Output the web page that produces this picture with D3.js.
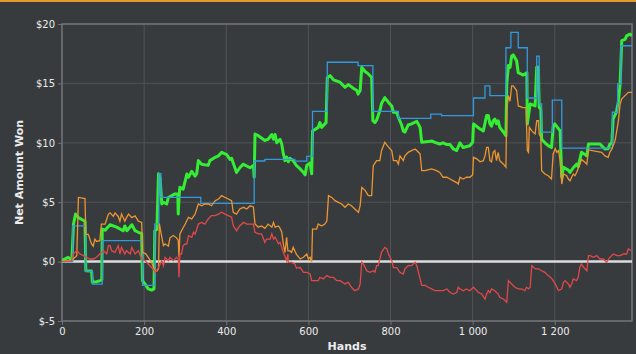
<!DOCTYPE html>
<html lang="en">
<head>
<meta charset="UTF-8">
<title>Net Amount Won</title>
<style>
  * { margin: 0; padding: 0; }
  body { background: #383b3e; }
  svg { display: block; }
  text { font-family: "DejaVu Sans", sans-serif; fill: #ececec; }
</style>
</head>
<body>
<svg></svg>
<script src="https://cdn.jsdelivr.net/npm/d3@7/dist/d3.min.js"></script>
<script>
// x ticks and y ticks
const handTicks = [0, 200, 400, 600, 800, 1000, 1200]
const wonTicks = [-5, 0, 5, 10, 15, 20]

// series: [hand, dollars]
const green = [[0,0.1],[15,0.36],[24,0.1],[28,3.16],[33,4.0],[40,3.7],[56,3.4],[58,-0.77],[72,-0.8],[74,-1.74],[84,-1.7],[93,-1.6],[97,-1.55],[98,2.74],[105,2.65],[117,3.1],[133,2.9],[149,2.6],[153,3.0],[158,2.6],[170,3.1],[178,2.6],[186,2.47],[194,2.35],[196,-1.6],[202,-1.88],[210,-2.3],[218,-2.4],[224,-2.3],[226,2.6],[231,2.7],[235,7.4],[239,7.0],[243,4.85],[247,5.0],[255,4.85],[259,5.4],[275,5.7],[282,5.7],[283,4.0],[285,5.4],[287,6.25],[295,6.1],[300,6.8],[304,7.37],[308,7.1],[316,7.6],[324,7.2],[328,7.4],[332,8.5],[340,8.2],[356,8.1],[360,8.5],[373,8.78],[381,8.9],[389,9.2],[401,9.0],[409,8.6],[413,8.7],[421,7.9],[425,7.5],[433,7.9],[441,8.2],[458,7.9],[466,8.1],[468,7.1],[470,10.74],[478,10.6],[494,10.2],[502,10.3],[511,10.7],[515,10.3],[519,10.7],[523,10.0],[531,10.3],[535,9.9],[539,9.06],[543,8.5],[547,8.8],[551,8.4],[555,8.7],[563,8.5],[571,8.07],[580,7.8],[588,7.5],[592,7.3],[596,8.1],[604,8.3],[608,7.4],[610,11.0],[624,11.3],[628,11.7],[632,11.3],[643,11.7],[646,15.5],[653,15.65],[661,15.3],[677,15.1],[689,14.67],[697,14.9],[709,14.6],[718,14.4],[721,14.1],[726,14.4],[730,16.35],[738,16.0],[746,15.8],[754,15.5],[757,11.86],[762,11.7],[766,11.9],[774,12.7],[778,13.3],[786,13.8],[795,13.4],[803,13.1],[807,12.57],[815,12.57],[819,12.15],[827,11.5],[831,11.0],[835,10.9],[843,11.5],[851,11.6],[864,11.8],[872,11.3],[876,10.04],[892,10.1],[900,10.15],[908,10.04],[920,9.9],[928,10.0],[937,9.85],[945,9.85],[953,9.48],[961,9.35],[969,10.0],[977,9.6],[993,9.75],[1000,10.04],[1002,11.58],[1018,11.16],[1026,11.0],[1034,12.3],[1038,12.3],[1042,11.6],[1046,11.4],[1050,11.86],[1054,12.0],[1058,11.6],[1062,11.86],[1066,11.3],[1075,10.9],[1081,10.6],[1083,14.95],[1087,16.5],[1091,16.35],[1095,17.3],[1099,17.4],[1107,16.9],[1111,15.9],[1123,15.7],[1132,15.9],[1133,11.58],[1140,13.27],[1152,13.1],[1156,16.35],[1160,16.35],[1162,13.0],[1166,12.8],[1168,10.3],[1176,10.0],[1184,9.76],[1192,9.6],[1196,11.3],[1200,11.6],[1213,11.0],[1217,7.1],[1221,7.94],[1233,7.7],[1237,7.5],[1245,7.9],[1253,8.2],[1257,8.0],[1265,9.2],[1278,8.9],[1282,9.9],[1294,9.9],[1310,9.9],[1322,9.48],[1330,9.5],[1334,9.9],[1339,10.0],[1342,12.0],[1350,12.6],[1355,13.5],[1359,14.95],[1363,18.6],[1371,18.7],[1375,19.0],[1383,19.16],[1388,19.0]]

const blue = [[0,0],[26,3.0],[58,-0.8],[74,-1.9],[98,1.76],[196,-2.0],[226,3.16],[236,7.4],[241,5.4],[338,4.9],[468,8.47],[494,8.6],[567,8.45],[596,8.86],[610,12.65],[646,16.78],[721,16.5],[757,12.65],[819,12.06],[898,12.42],[924,12.28],[1002,13.77],[1030,14.8],[1042,13.97],[1081,18.0],[1093,19.3],[1111,18.0],[1133,13.77],[1156,17.3],[1162,13.27],[1168,10.9],[1194,13.6],[1217,9.56],[1340,12.57],[1353,14.95],[1361,18.17],[1388,18.17]]

const orange = [[0,0],[23,0.1],[36,0.5],[40,5.4],[56,5.3],[58,2.3],[64,2.3],[72,1.48],[76,1.3],[80,1.9],[84,1.7],[92,1.76],[96,3.16],[105,3.16],[113,4.0],[117,4.1],[125,3.8],[129,4.1],[137,3.8],[141,3.4],[145,4.0],[153,3.4],[157,3.7],[162,4.0],[170,3.7],[178,3.85],[186,3.4],[194,3.3],[196,0.78],[204,0.65],[210,0.36],[218,-0.06],[226,-0.77],[231,-0.8],[235,-0.6],[237,3.2],[243,2.05],[247,1.34],[251,1.5],[259,1.3],[263,2.0],[271,2.2],[279,2.0],[283,1.8],[285,0.36],[287,2.3],[291,2.6],[300,3.16],[308,3.73],[316,3.6],[324,4.0],[332,4.85],[340,4.7],[348,4.85],[356,4.85],[364,4.7],[373,5.13],[381,5.27],[389,5.55],[397,5.4],[405,5.27],[413,5.13],[417,4.15],[425,4.0],[433,4.43],[442,4.57],[450,4.43],[458,4.7],[466,4.6],[470,3.16],[478,2.9],[486,3.0],[494,2.8],[502,3.16],[511,2.9],[515,3.3],[519,2.9],[527,3.0],[531,2.8],[535,2.5],[539,1.48],[543,0.78],[547,2.05],[550,0.9],[555,0.9],[559,0.78],[563,1.2],[571,0.6],[580,0.22],[588,0.36],[596,0.64],[600,0.22],[604,0.36],[608,-0.06],[610,2.74],[620,2.74],[624,3.16],[632,3.0],[640,3.16],[645,3.43],[649,5.55],[657,5.4],[665,5.13],[673,4.99],[681,4.85],[689,4.57],[697,4.85],[705,4.7],[713,4.43],[722,4.15],[726,4.7],[730,6.25],[738,6.0],[746,5.55],[754,5.55],[758,8.07],[766,8.5],[774,8.5],[778,9.34],[786,10.04],[795,9.63],[803,9.34],[807,8.5],[815,8.5],[819,8.2],[823,8.9],[831,8.5],[835,8.9],[843,9.2],[851,9.34],[860,9.48],[868,9.2],[872,9.06],[876,7.65],[884,7.65],[900,7.8],[912,7.65],[920,7.5],[928,7.1],[937,7.1],[945,6.95],[953,6.8],[961,6.65],[965,6.53],[969,7.1],[977,6.95],[985,7.1],[993,7.1],[1000,7.3],[1002,8.78],[1010,8.65],[1018,8.4],[1026,8.5],[1030,8.9],[1034,9.62],[1038,9.62],[1042,8.5],[1046,8.4],[1050,9.2],[1054,9.34],[1058,8.5],[1062,9.2],[1066,8.5],[1075,8.2],[1081,7.94],[1083,12.7],[1087,13.97],[1091,13.5],[1095,14.8],[1099,14.8],[1107,14.4],[1111,13.1],[1123,12.96],[1130,12.96],[1133,9.34],[1136,9.2],[1138,11.3],[1144,11.0],[1152,10.74],[1156,11.86],[1160,11.86],[1162,10.74],[1166,10.46],[1168,7.65],[1176,7.37],[1184,7.23],[1192,6.95],[1196,9.06],[1201,9.5],[1205,9.2],[1209,9.34],[1213,8.5],[1217,6.53],[1221,7.37],[1229,7.23],[1233,6.95],[1237,6.8],[1241,7.1],[1245,7.37],[1249,7.23],[1253,7.5],[1261,8.2],[1265,8.6],[1274,8.35],[1278,8.2],[1282,9.4],[1298,9.3],[1314,9.2],[1322,8.9],[1330,8.78],[1334,9.2],[1339,9.48],[1347,10.2],[1355,11.86],[1359,13.27],[1363,13.7],[1371,13.97],[1379,14.25],[1388,14.25]]

const red = [[0,0],[23,0.05],[27,0.64],[36,0.92],[44,0.64],[52,0.5],[60,0.36],[68,0.22],[76,0.22],[84,0.36],[92,0.64],[101,0.92],[109,0.64],[113,1.34],[117,1.34],[121,0.92],[129,0.78],[137,1.34],[141,0.64],[145,1.2],[153,0.64],[157,0.92],[166,0.64],[170,1.2],[178,0.64],[186,0.92],[194,0.22],[202,0.08],[210,-0.2],[218,-0.5],[226,-0.8],[227,-0.9],[235,-0.5],[243,0.08],[247,-0.34],[251,0.36],[259,0.08],[263,0.36],[271,0.08],[279,0.36],[283,0.22],[285,-1.32],[287,0.64],[291,0.64],[295,1.34],[300,1.48],[304,1.48],[308,2.18],[316,2.05],[320,2.47],[324,2.3],[328,2.7],[332,3.16],[340,3.3],[348,3.16],[356,3.59],[364,3.87],[373,3.87],[381,4.0],[389,4.15],[397,4.0],[405,3.87],[413,3.73],[417,3.02],[425,2.6],[433,3.02],[442,3.3],[450,3.16],[458,3.16],[466,3.16],[470,2.47],[478,2.33],[486,2.33],[494,1.62],[498,1.9],[507,1.9],[511,2.33],[515,1.9],[519,2.05],[527,1.5],[531,1.62],[535,1.2],[539,0.78],[547,0.08],[550,0.64],[551,-0.06],[559,-0.06],[567,-0.2],[571,-0.55],[580,-0.5],[588,-0.9],[596,-0.9],[604,-1.04],[608,-1.6],[616,-1.6],[624,-1.6],[628,-1.32],[636,-1.46],[645,-1.18],[653,-1.32],[661,-1.32],[669,-1.6],[677,-1.6],[689,-1.88],[697,-1.74],[705,-2.16],[713,-2.45],[722,-2.3],[726,-1.88],[730,-0.06],[734,-0.2],[742,-0.77],[750,-0.9],[758,-0.77],[762,-0.9],[766,-0.34],[770,-0.34],[774,0.22],[778,0.78],[786,1.2],[791,1.06],[795,0.64],[803,0.08],[807,-0.5],[815,-0.5],[823,-0.9],[831,-1.04],[835,-0.62],[843,-0.34],[851,-0.34],[860,-0.06],[864,-0.34],[868,-0.9],[876,-2.0],[884,-2.0],[892,-2.16],[900,-2.3],[908,-2.45],[920,-2.45],[928,-2.45],[937,-2.3],[945,-2.6],[953,-2.73],[961,-2.6],[965,-2.16],[969,-2.3],[977,-2.45],[985,-2.3],[993,-2.45],[1002,-2.16],[1006,-2.3],[1014,-2.6],[1022,-2.73],[1030,-3.15],[1034,-2.73],[1038,-2.45],[1042,-2.6],[1046,-2.3],[1054,-2.45],[1058,-2.6],[1062,-2.73],[1066,-3.0],[1075,-3.15],[1083,-3.43],[1087,-1.6],[1095,-1.88],[1103,-2.16],[1111,-2.3],[1119,-2.3],[1127,-2.45],[1131,-2.16],[1136,-2.3],[1140,-2.16],[1144,-0.34],[1152,-0.6],[1160,-0.62],[1168,-0.77],[1176,-0.9],[1184,-1.18],[1192,-1.4],[1201,-1.88],[1209,-2.45],[1217,-2.3],[1221,-1.74],[1225,-1.6],[1229,-1.74],[1233,-1.88],[1237,-2.16],[1241,-1.88],[1245,-1.46],[1253,-1.6],[1257,-1.32],[1261,-0.48],[1265,-0.2],[1270,-0.48],[1278,-0.77],[1282,0.5],[1286,0.5],[1294,0.36],[1302,0.5],[1310,0.22],[1318,0.22],[1326,-0.06],[1334,0.36],[1343,0.64],[1351,0.5],[1359,0.5],[1367,0.64],[1375,0.64],[1379,1.06],[1387,0.92]]

const W = 636, H = 354
const m = { left: 62, right: 632, top: 24, bottom: 321 }

const svg = d3.select('svg').attr('width', W).attr('height', H)

// fond + liseré orange en haut
svg.append('rect').attr('width', W).attr('height', H).attr('fill', '#383b3e')
svg.append('rect').attr('width', W).attr('height', 2).attr('fill', '#e39a2c')

const x = d3.scaleLinear().domain([0, 1388]).range([m.left, m.right])
const y = d3.scaleLinear().domain([-5, 20]).range([m.bottom, m.top])

const loc = d3.formatLocale({ decimal: '.', thousands: ' ', grouping: [3], currency: ['$', ''] })
const fmtX = loc.format(',')

// grille
const grid = svg.append('g')
grid.selectAll('.gx').data(handTicks.slice(1)).join('line')
    .attr('x1', d => x(d)).attr('x2', d => x(d))
    .attr('y1', m.top).attr('y2', m.bottom)
    .attr('stroke', '#505356').attr('stroke-width', 1)
grid.selectAll('.gy').data(wonTicks.filter(d => d > -5 && d < 20)).join('line')
    .attr('x1', m.left).attr('x2', m.right)
    .attr('y1', d => y(d)).attr('y2', d => y(d))
    .attr('stroke', '#505356').attr('stroke-width', 1)

// axes
const xAxis = svg.append('g').attr('transform', `translate(0,${m.bottom})`)
    .call(d3.axisBottom(x).tickValues(handTicks).tickFormat(fmtX).tickSize(4).tickPadding(3))
const yAxis = svg.append('g').attr('transform', `translate(${m.left},0)`)
    .call(d3.axisLeft(y).tickValues(wonTicks).tickFormat(d => '$' + d).tickSize(4).tickPadding(3))
for (const a of [xAxis, yAxis]) {
    a.select('.domain').remove()
    a.selectAll('line').attr('stroke', '#707376')
    a.selectAll('text').attr('font-size', 10).attr('fill', '#ececec')
        .style('font-family', '"DejaVu Sans", sans-serif')
}

// cadre
svg.append('rect').attr('x', m.left).attr('y', m.top)
    .attr('width', m.right - m.left).attr('height', m.bottom - m.top)
    .attr('fill', 'none').attr('stroke', '#747779').attr('stroke-width', 1.5)

// ligne zéro
svg.append('line').attr('x1', m.left).attr('x2', m.right)
    .attr('y1', y(0)).attr('y2', y(0))
    .attr('stroke', '#dcdcdc').attr('stroke-width', 2.5)

svg.append('clipPath').attr('id', 'clip').append('rect')
    .attr('x', m.left).attr('y', m.top).attr('width', m.right - m.left).attr('height', m.bottom - m.top)

const plot = svg.append('g').attr('clip-path', 'url(#clip)')
const line = d3.line().x(d => x(d[0])).y(d => y(d[1]))
const stepLine = d3.line().x(d => x(d[0])).y(d => y(d[1])).curve(d3.curveStepAfter)

plot.append('path').datum(green).attr('d', line)
    .attr('fill', 'none').attr('stroke', '#33ee33').attr('stroke-width', 3).attr('stroke-linejoin', 'round')
plot.append('path').datum(blue).attr('d', stepLine)
    .attr('fill', 'none').attr('stroke', '#3399dd').attr('stroke-width', 1.3)
plot.append('path').datum(orange).attr('d', line)
    .attr('fill', 'none').attr('stroke', '#ee9530').attr('stroke-width', 1.3)
plot.append('path').datum(red).attr('d', line)
    .attr('fill', 'none').attr('stroke', '#e24848').attr('stroke-width', 1.3)

// titres d'axes
svg.append('text').attr('x', (m.left + m.right) / 2).attr('y', 350)
    .attr('text-anchor', 'middle').attr('font-size', 11).attr('font-weight', 'bold')
    .text('Hands')
svg.append('text').attr('transform', `translate(23,${(m.top + m.bottom) / 2}) rotate(-90)`)
    .attr('text-anchor', 'middle').attr('font-size', 11).attr('font-weight', 'bold')
    .text('Net Amount Won')
</script>
</body>
</html>
